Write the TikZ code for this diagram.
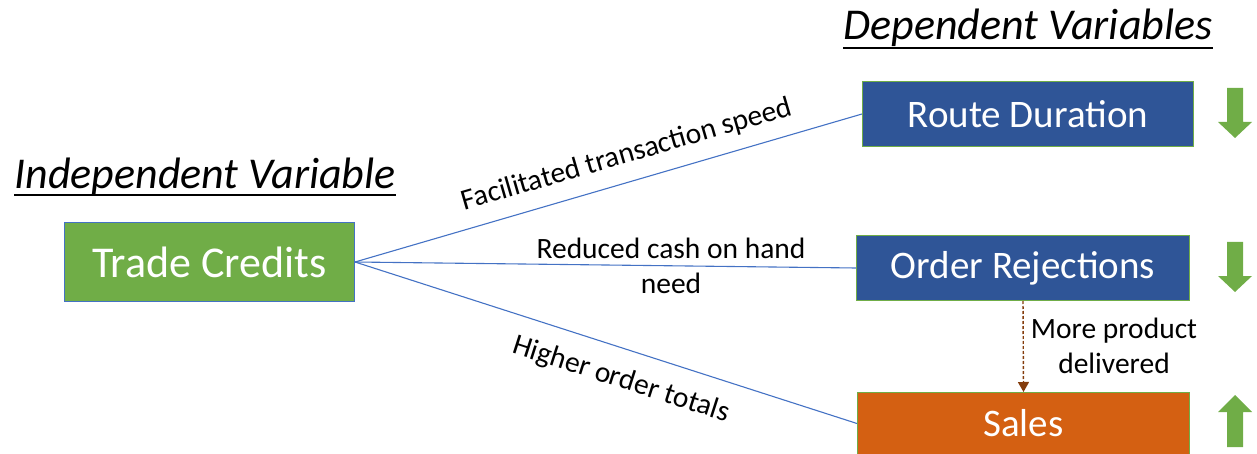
\documentclass[tikz,border=0pt]{standalone}
\usepackage{fontspec}
\setmainfont{Carlito}
\usetikzlibrary{arrows.meta}
\definecolor{cgreen}{HTML}{70AD47}
\definecolor{cblue}{HTML}{2F5597}
\definecolor{corange}{HTML}{D46012}
\definecolor{cline}{HTML}{4472C4}
\definecolor{cbrown}{HTML}{843C0C}
\tikzset{
  box/.style={draw=cgreen, line width=1pt, text=white, font=\fontsize{39}{44}\selectfont, inner sep=0pt, anchor=north west},
  conn/.style={draw=cline, line width=1.1pt},
  dconn/.style={draw=cbrown, line width=1.4pt, dashed, dash pattern=on 3pt off 2pt, -{Triangle[length=10pt,width=11pt]}},
  lbl/.style={font=\fontsize{29.5}{35}\selectfont, align=center, inner sep=0pt},
  title/.style={font=\fontsize{44}{50}\selectfont\itshape, inner sep=0pt, anchor=base},
  uline/.style={line width=2pt, draw=black},
  barrow/.style={fill=cgreen, draw=none},
}
\begin{document}
\begin{tikzpicture}[x=1pt,y=-1pt]
\useasboundingbox (0,0) rectangle (1257,454);
% titles
\node[title] (dep) at (1028,40) {Dependent Variables};
\node[title] (ind) at (205,189) {Independent Variable};
\draw[uline] ([yshift=-8pt]dep.base west) -- ([yshift=-8pt]dep.base east);
\draw[uline] ([yshift=-6pt]ind.base west) -- ([yshift=-6pt]ind.base east);
% boxes
\node[box, fill=cgreen, draw=cline, font=\fontsize{44}{50}\selectfont, minimum width=290pt, minimum height=79pt] (tc) at (64,222) {Trade Credits};
\node[box, fill=cblue, minimum width=331pt, minimum height=65pt] (rd) at (862,81) {Route Duration};
\node[box, fill=cblue, minimum width=333pt, minimum height=65pt] (or) at (856,235) {Order Rejections};
\node[box, fill=corange, minimum width=332pt, minimum height=62pt] (sa) at (857,392) {Sales};
% connectors
\draw[conn] (tc.east) -- (rd.west);
\draw[conn] (tc.east) -- (or.west);
\draw[conn] (tc.east) -- (sa.west);
\draw[dconn] (or.south) -- (sa.north);
% labels
\node[lbl, rotate=16.2] (l1) at (627,155) {Facilitated transaction speed};
\node[lbl] (l2) at (671,266) {Reduced cash on hand\\need};
\node[lbl, rotate=-17.8] (l3) at (621,380) {Higher order totals};
\node[lbl] (l4) at (1114,346) {More product\\delivered};
% block arrows
\fill[barrow] (1227,88) -- (1243,88) -- (1243,122) -- (1252,122) -- (1235,138) -- (1218,122) -- (1227,122) -- cycle;
\fill[barrow] (1227,242) -- (1243,242) -- (1243,276) -- (1252,276) -- (1235,292) -- (1218,276) -- (1227,276) -- cycle;
\fill[barrow] (1227,447) -- (1243,447) -- (1243,412) -- (1252,412) -- (1235,395) -- (1218,412) -- (1227,412) -- cycle;
\end{tikzpicture}
\end{document}
